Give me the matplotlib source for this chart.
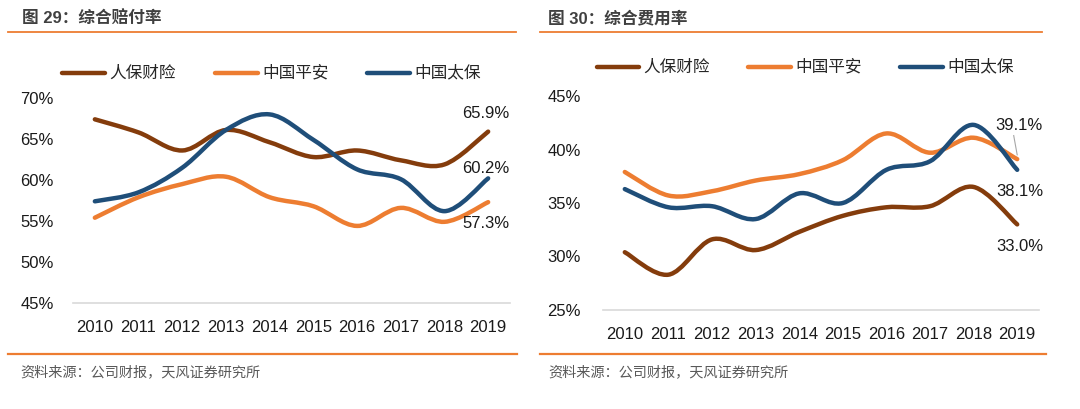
import numpy as np
import matplotlib
matplotlib.use("Agg")
import matplotlib.pyplot as plt
from matplotlib.path import Path
from matplotlib.patches import PathPatch
from matplotlib.lines import Line2D

plt.rcParams['font.family'] = ['Liberation Sans', 'Noto Sans CJK SC', 'DejaVu Sans']

# -----------------------------
# Data
# -----------------------------
years = [2010, 2011, 2012, 2013, 2014, 2015, 2016, 2017, 2018, 2019]
companies = ["人保财险", "中国平安", "中国太保"]

# combined claims ratio (%)
picc_claims = [67.4, 65.8, 63.6, 66.1, 64.6, 62.8, 63.6, 62.4, 61.9, 65.9]
pingan_claims = [55.4, 57.9, 59.5, 60.4, 57.9, 56.8, 54.4, 56.6, 54.9, 57.3]
cpic_claims = [57.4, 58.5, 61.5, 66.1, 68.0, 64.9, 61.3, 60.1, 56.2, 60.2]

# combined expense ratio (%)
picc_exp = [30.4, 28.3, 31.6, 30.6, 32.3, 33.8, 34.6, 34.7, 36.5, 33.0]
pingan_exp = [37.9, 35.7, 36.1, 37.1, 37.7, 39.0, 41.5, 39.7, 41.1, 39.1]
cpic_exp = [36.3, 34.6, 34.7, 33.5, 35.9, 35.0, 38.1, 38.9, 42.3, 38.1]

colors = ["#843C0C", "#ED7D31", "#1F4E79"]
orange_rule = "#ED7D31"


def smooth_path(xs, ys):
    """Excel-like smoothed line: cubic Bezier through every data point."""
    p = np.column_stack([xs, ys]).astype(float)
    verts = [p[0]]
    codes = [Path.MOVETO]
    n = len(p)
    for i in range(n - 1):
        prev = p[i - 1] if i > 0 else p[i]
        nxt = p[i + 2] if i + 2 < n else p[i + 1]
        c1 = p[i] + (p[i + 1] - prev) / 6.0
        c2 = p[i + 1] - (nxt - p[i]) / 6.0
        verts += [c1, c2, p[i + 1]]
        codes += [Path.CURVE4] * 3
    return Path(verts, codes)


def draw_panel(ax, series, ylim, yticks, labels, ypad):
    x = np.arange(len(years))
    for vals, c in zip(series, colors):
        ax.add_patch(PathPatch(smooth_path(x, vals), fill=False, edgecolor=c,
                               lw=3.2, capstyle='round', joinstyle='round'))
    ax.set_xlim(-0.5, len(years) - 0.5)
    ax.set_ylim(*ylim)
    ax.set_yticks(yticks)
    ax.set_yticklabels([f"{t}%" for t in yticks])
    ax.set_xticks(x)
    ax.set_xticklabels([str(y) for y in years])
    for s in ["top", "right", "left"]:
        ax.spines[s].set_visible(False)
    ax.spines["bottom"].set_color("#D9D9D9")
    ax.spines["bottom"].set_linewidth(1.2)
    ax.tick_params(axis='both', length=0, labelsize=12, colors="#1a1a1a")
    ax.tick_params(axis='y', pad=ypad)
    ax.tick_params(axis='x', pad=12)
    for (xv, yv, txt) in labels:
        ax.text(xv, yv, txt, ha='center', va='center', fontsize=12, color="#1a1a1a")


fig = plt.figure(figsize=(10.8, 4.09), dpi=100)
W, H = 1080, 409

# left panel
ax1 = fig.add_axes([73 / W, 1 - 303 / H, (510 - 73) / W, (303 - 98) / H])
draw_panel(ax1, [picc_claims, pingan_claims, cpic_claims], (45, 70),
           [45, 50, 55, 60, 65, 70],
           [(8.95, 68.05, f"{picc_claims[-1]}%"),
            (8.95, 61.35, f"{cpic_claims[-1]}%"),
            (8.95, 54.7, f"{pingan_claims[-1]}%")], ypad=14)

# right panel
ax2 = fig.add_axes([603 / W, 1 - 310 / H, (1039 - 603) / W, (310 - 96) / H])
draw_panel(ax2, [picc_exp, pingan_exp, cpic_exp], (25, 45),
           [25, 30, 35, 40, 45],
           [(9.05, 42.2, f"{pingan_exp[-1]:.1f}%"),
            (9.05, 36.1, f"{cpic_exp[-1]:.1f}%"),
            (9.05, 30.9, f"{picc_exp[-1]:.1f}%")], ypad=16)
# leader line from 39.1% label to the orange end point
ax2.plot([8.92, 9.0], [41.3, 39.5], color="#A6A6A6", lw=0.8)

# titles, rules, legends, sources
panels = [
    dict(title="图 29：综合赔付率", tx=22, x0=8, x1=516, leg=[(62, 105), (215, 258), (367, 410)], ly=73,
         sx=20, bx0=8, bx1=517),
    dict(title="图 30：综合费用率", tx=548, x0=540, x1=1042, leg=[(597, 639), (748, 791), (900, 943)], ly=67,
         sx=548, bx0=540, bx1=1046),
]
for p in panels:
    fig.text(p["tx"] / W, 1 - 18 / H, p["title"], fontsize=12, fontweight='bold',
             color="#404040", va='center', ha='left')
    fig.add_artist(Line2D([p["x0"] / W, p["x1"] / W], [1 - 32 / H] * 2,
                          color=orange_rule, lw=1.3))
    fig.add_artist(Line2D([p["bx0"] / W, p["bx1"] / W], [1 - 354 / H] * 2,
                          color=orange_rule, lw=1.6))
    fig.text(p["sx"] / W, 1 - 372 / H, "资料来源：公司财报，天风证券研究所", fontsize=10.2,
             color="#595959", va='center', ha='left')
    for (a, b), name, c in zip(p["leg"], companies, colors):
        fig.add_artist(Line2D([a / W, b / W], [1 - p["ly"] / H] * 2, color=c, lw=3.2,
                              solid_capstyle='round'))
        fig.text((b + 4) / W, 1 - p["ly"] / H, name, fontsize=12, color="#262626",
                 va='center', ha='left')

fig.savefig("out.png", dpi=100)
